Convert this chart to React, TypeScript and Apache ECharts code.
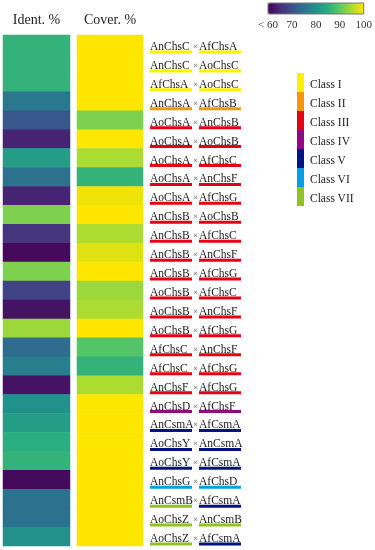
import React, { useEffect, useRef } from "react";
import * as echarts from "echarts";

const rowLeft = ["AnChsC","AnChsC","AfChsA","AnChsA","AoChsA","AoChsA","AoChsA","AoChsA","AoChsA","AnChsB","AnChsB","AnChsB","AnChsB","AoChsB","AoChsB","AoChsB","AfChsC","AfChsC","AnChsF","AnChsD","AnCsmA","AoChsY","AoChsY","AnChsG","AnCsmB","AoChsZ","AoChsZ"];
const rowRight = ["AfChsA","AoChsC","AoChsC","AfChsB","AnChsB","AoChsB","AfChsC","AnChsF","AfChsG","AoChsB","AfChsC","AnChsF","AfChsG","AfChsC","AnChsF","AfChsG","AnChsF","AfChsG","AfChsG","AfChsF","AfCsmA","AnCsmA","AfCsmA","AfChsD","AfCsmA","AnCsmB","AfCsmA"];
const classLeft = [1,1,1,2,3,3,3,3,3,3,3,3,3,3,3,3,3,3,3,4,5,5,5,6,7,7,7];
const classRight = [1,1,1,2,3,3,3,3,3,3,3,3,3,3,3,3,3,3,3,4,5,5,5,6,5,7,5];
const identity = [86,86,86,76,71,64,82,75,64,92,66,61,92,68,62,94,74,77,62,80,82,85,86,61,75,75,80];
const coverage = [100,100,100,100,92,100,95,86,99,100,95,98,100,94,95,100,89,86,95,100,100,100,100,100,100,100,100];
const columns = ["Ident. %", "Cover. %"];
const classNames = ["Class I","Class II","Class III","Class IV","Class V","Class VI","Class VII"];
const classColors = ["#fff200","#f39800","#e60012","#920783","#00137f","#00a0e9","#8fc31f"];
const scaleTicks = [60, 70, 80, 90, 100];
const viridis = ["#440154","#472d7b","#3b528b","#2c728e","#21918c","#28ae80","#5ec962","#addc30","#ffe600"];

const SERIF = '"Liberation Serif", "Times New Roman", serif';

export default function App() {
  const ref = useRef<HTMLDivElement>(null);
  useEffect(() => {
    const chart = echarts.init(ref.current!, null, { renderer: "svg" });
    const rowIdx = rowLeft.map((_, i) => i);
    const top = 35, height = 511;
    const hidden = { show: false };
    const legendGraphics: any[] = [];
    classNames.forEach((n, i) => {
      legendGraphics.push({ type: "rect", shape: { x: 297, y: 73 + i * 19, width: 7, height: 19 }, style: { fill: classColors[i] } });
      legendGraphics.push({ type: "text", x: 310, y: 83.5 + i * 19, style: { text: n, font: `11.5px ${SERIF}`, fill: "#222", verticalAlign: "middle" } });
    });
    chart.setOption({
      animation: false,
      grid: [
        { left: 3, top, width: 67, height },
        { left: 77, top, width: 66, height },
        { left: 150, top, width: 100, height },
        { left: 268, top: 3, width: 96, height: 11, show: true, borderColor: "#777", borderWidth: 1, backgroundColor: "transparent", z: 10 },
      ],
      xAxis: [
        { gridIndex: 0, type: "category", data: [columns[0]], position: "top", axisLine: hidden, axisTick: hidden, axisLabel: { fontSize: 14, fontFamily: SERIF, color: "#222", margin: 9 } },
        { gridIndex: 1, type: "category", data: [columns[1]], position: "top", axisLine: hidden, axisTick: hidden, axisLabel: { fontSize: 14, fontFamily: SERIF, color: "#222", margin: 9 } },
        { gridIndex: 2, type: "value", min: 0, max: 1, show: false },
        { gridIndex: 3, type: "value", min: 60, max: 100, interval: 10, position: "bottom", axisLine: hidden, axisTick: hidden, splitLine: hidden,
          axisLabel: { fontSize: 11, fontFamily: SERIF, color: "#333", margin: 4, formatter: (v: number) => (v === scaleTicks[0] ? "< " + v : String(v)) } },
      ],
      yAxis: [0, 1, 2].map((g) => ({ gridIndex: g, type: "category", data: rowIdx.map(String), inverse: true, show: false }))
        .concat([{ gridIndex: 3, type: "value", min: 0, max: 1, show: false } as any]),
      visualMap: {
        type: "continuous", min: 60, max: 100, seriesIndex: [0, 1], dimension: 2, orient: "horizontal",
        left: 268, top: 3, itemWidth: 11, itemHeight: 96, calculable: false, padding: 0, text: undefined,
        inRange: { color: viridis },
      },
      series: [
        { type: "heatmap", xAxisIndex: 0, yAxisIndex: 0, data: identity.map((v, i) => [0, i, v]) },
        { type: "heatmap", xAxisIndex: 1, yAxisIndex: 1, data: coverage.map((v, i) => [0, i, v]) },
        {
          type: "custom", xAxisIndex: 2, yAxisIndex: 2, data: rowIdx.map((i) => [0, i]), encode: { x: 0, y: 1 },
          renderItem: (params: any, api: any) => {
            const i = api.value(1);
            const [x0, cy] = api.coord([0, i]);
            return {
              type: "group",
              children: [
                { type: "text", x: x0, y: cy + 1.5, style: { text: rowLeft[i], font: `11.5px ${SERIF}`, fill: "#1a1a1a", verticalAlign: "middle" } },
                { type: "rect", shape: { x: x0, y: cy + 6, width: 42, height: 3 }, style: { fill: classColors[classLeft[i] - 1] } },
                { type: "text", x: x0 + 45.5, y: cy + 1.5, style: { text: "×", font: `9px ${SERIF}`, fill: "#555", verticalAlign: "middle", align: "center" } },
                { type: "text", x: x0 + 49, y: cy + 1.5, style: { text: rowRight[i], font: `11.5px ${SERIF}`, fill: "#1a1a1a", verticalAlign: "middle" } },
                { type: "rect", shape: { x: x0 + 49, y: cy + 6, width: 42, height: 3 }, style: { fill: classColors[classRight[i] - 1] } },
              ],
            };
          },
        },
      ],
      graphic: legendGraphics,
    });
    return () => chart.dispose();
  }, []);
  return <div ref={ref} style={{ position: "fixed", left: 0, top: 0, width: 375, height: 550 }} />;
}
